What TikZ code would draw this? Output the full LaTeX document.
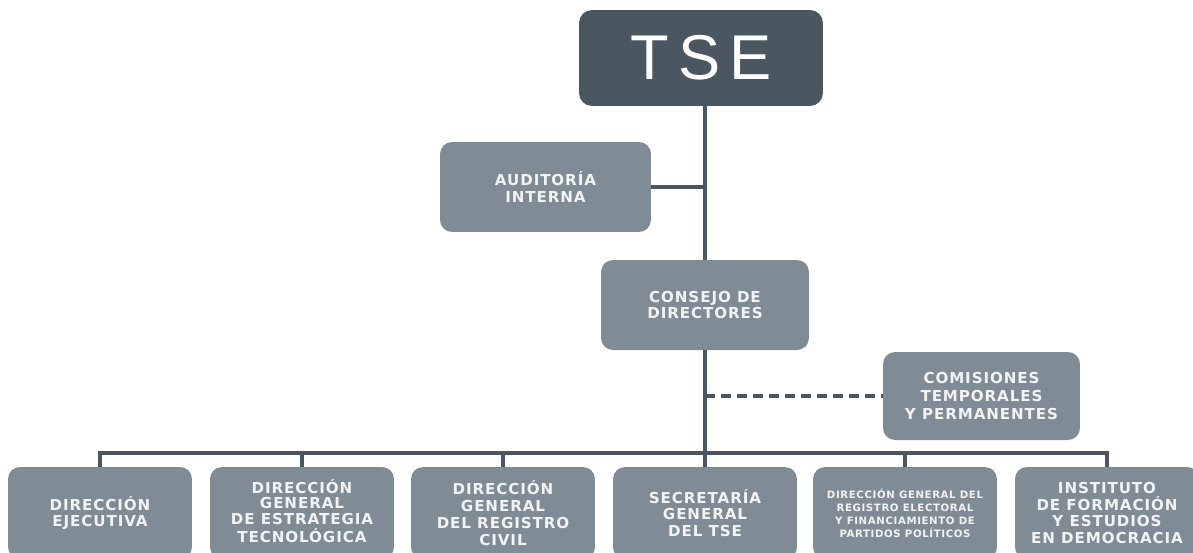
\documentclass[tikz,border=0pt]{standalone}
\usepackage{fontspec}
\newfontfamily\orgfont{DejaVu Sans}[LetterSpace=6]
\newfontfamily\titlefont{Liberation Sans}[LetterSpace=15]
\usetikzlibrary{positioning, calc}
\definecolor{tsedark}{HTML}{4A5760}
\definecolor{tsebox}{HTML}{7F8C96}
\definecolor{tseline}{HTML}{4B5660}
\definecolor{tsetext}{HTML}{F2F3F3}

\begin{document}
\begin{tikzpicture}[
        x=0.02cm, y=-0.02cm,
        link/.style={draw=tseline, line width=2pt},
        chief/.style={rectangle, rounded corners=0.26cm, fill=tsedark, text=white, minimum width=4.88cm, minimum height=1.92cm, inner sep=0pt, font=\titlefont\fontsize{36}{40}\selectfont},
        unit/.style={rectangle, rounded corners=0.24cm, fill=tsebox, text=tsetext, align=center, inner sep=0pt, font=\orgfont\bfseries\fontsize{8.6}{9.6}\selectfont},
        branch/.style={unit, minimum width=3.68cm, minimum height=1.84cm},
    ]
    \useasboundingbox (0,0) rectangle (1193,552);

        % Draw the top of the chart
        \node[chief] (tse) at (701,58) {TSE};
        \node[unit, minimum width=4.22cm, minimum height=1.8cm] (auditoria) at (545.5,187) {AUDITORÍA\\INTERNA};
        \node[unit, minimum width=4.16cm, minimum height=1.8cm] (consejo) at (705,305) {CONSEJO DE\\DIRECTORES};
        \node[unit, minimum width=3.94cm, minimum height=1.76cm, font=\orgfont\bfseries\fontsize{8.6}{10.5}\selectfont] (comisiones) at (981.5,396) {COMISIONES\\TEMPORALES\\Y PERMANENTES};

        % Draw the directions along the bottom
        \foreach \name / \x / \txt in {1/100/{DIRECCIÓN\\EJECUTIVA}, 3/503/{DIRECCIÓN\\GENERAL\\DEL REGISTRO\\CIVIL}, 4/705/{SECRETARÍA\\GENERAL\\DEL TSE}, 6/1107/{INSTITUTO\\DE FORMACIÓN\\Y ESTUDIOS\\EN DEMOCRACIA}}
            \node[branch] (D-\name) at (\x,513) {\txt};
        \node[branch, font=\orgfont\bfseries\fontsize{8.6}{8}\selectfont] (D-2) at (302,513) {\raisebox{-6pt}{\begin{tabular}{@{}c@{}}DIRECCIÓN\\GENERAL\\DE ESTRATEGIA\\TECNOLÓGICA\end{tabular}}};
        \node[branch, font=\orgfont\bfseries\fontsize{5.8}{7.4}\selectfont] (D-5) at (905,513) {DIRECCIÓN GENERAL DEL\\REGISTRO ELECTORAL\\Y FINANCIAMIENTO DE\\PARTIDOS POLÍTICOS};

        % Connect the boxes
        \draw[link] (consejo.north) -- (consejo.north |- tse.south);
        \draw[link] (auditoria.east) -- (auditoria.east -| consejo.north);
        \draw[link] (consejo.south) -- (D-4.north);
        \draw[link, dash pattern=on 5.5pt off 3.6pt] (comisiones.west -| consejo.south) -- (comisiones.west);

        \coordinate (bus) at (705,453);
        \draw[link] (D-1.north) |- (bus) -| (D-6.north);
        \foreach \name in {2,3,5}
            \draw[link] (D-\name.north) -- (D-\name.north |- bus);
    \end{tikzpicture}
\end{document}
